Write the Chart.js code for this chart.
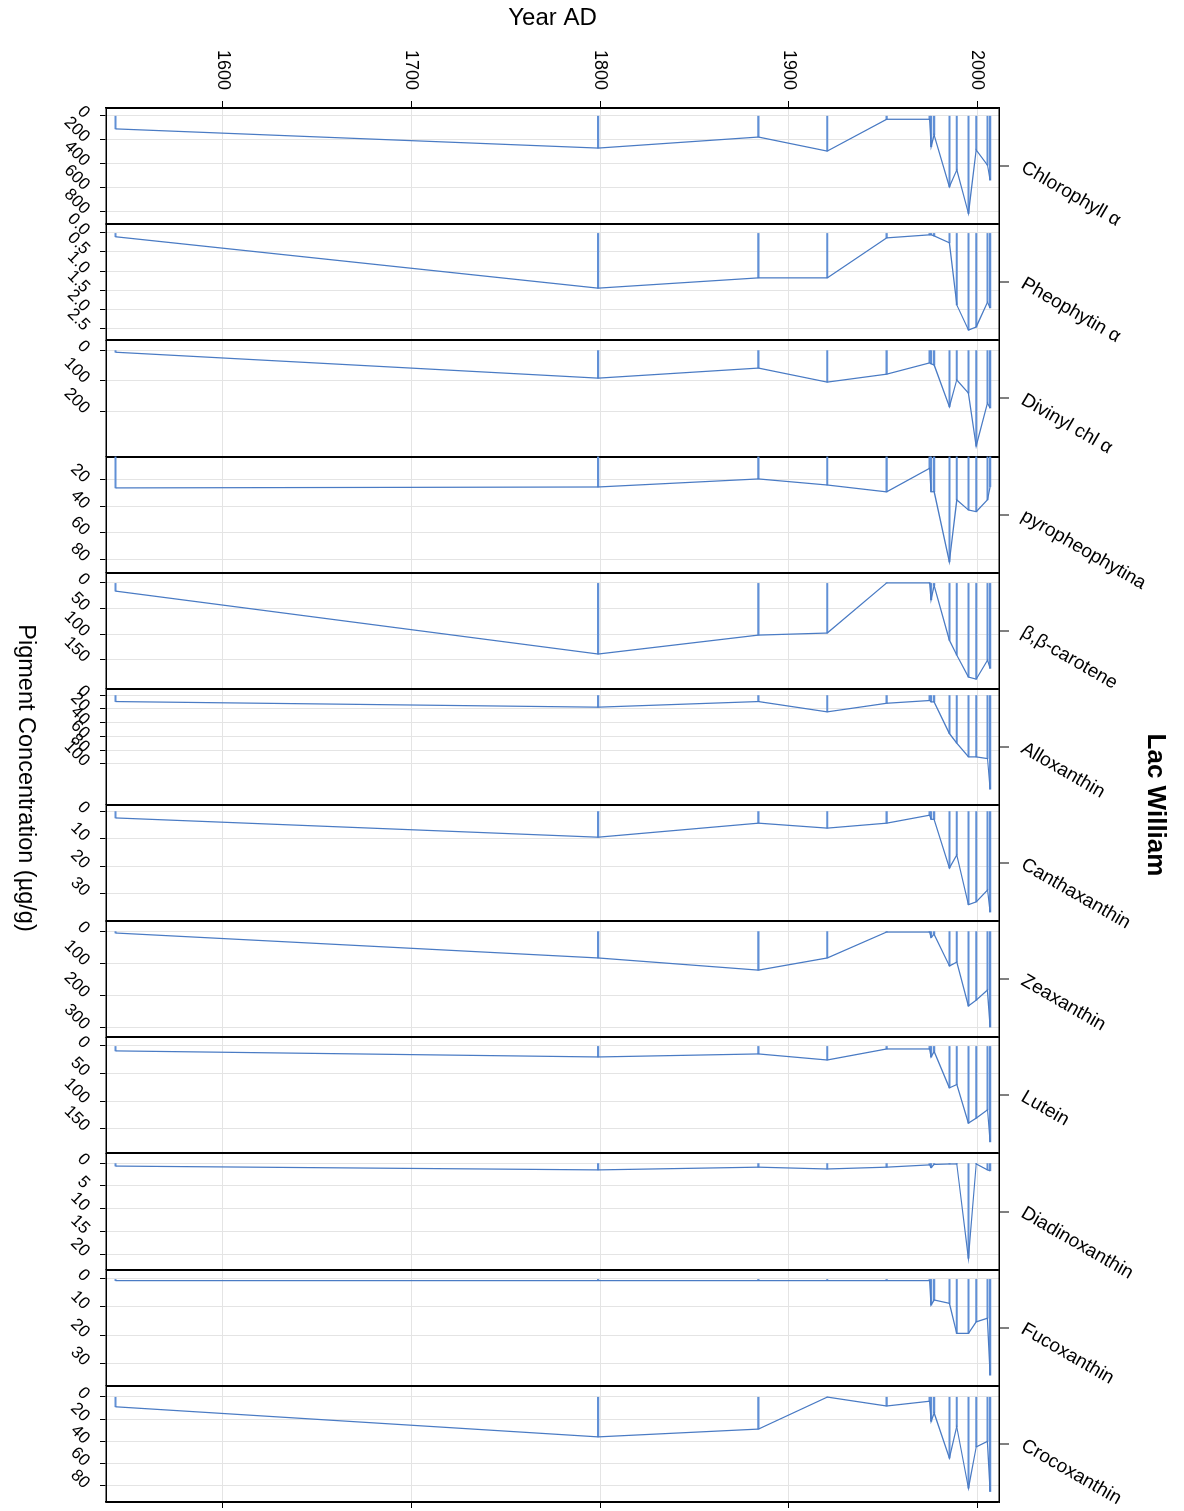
<!DOCTYPE html>
<html><head><meta charset="utf-8">
<script src="https://cdn.jsdelivr.net/npm/chart.js@4.4.0/dist/chart.umd.min.js"></script>
<style>
html,body{margin:0;padding:0;background:#fff;overflow:hidden;width:1184px;height:1511px;}
#wrap{position:absolute;left:0;top:0;width:1511px;height:1184px;transform-origin:0 0;transform:translateX(1184px) rotate(90deg);}
canvas{display:block;}
</style></head><body>
<div id="wrap"><canvas id="c" width="1511" height="1184"></canvas></div>
<script>
// ---- data ----
const years = [1543, 1799, 1884, 1920.5, 1952, 1974.8, 1975.6, 1977.2, 1985.3, 1989.2, 1995.4, 1999.5, 2005.5, 2006.9];
const yearTicks = [1600, 1700, 1800, 1900, 2000];
const pigmentNames = ['Chlorophyll α', 'Pheophytin α', 'Divinyl chl α', 'pyropheophytina', 'β,β-carotene', 'Alloxanthin',
  'Canthaxanthin', 'Zeaxanthin', 'Lutein', 'Diadinoxanthin', 'Fucoxanthin', 'Crocoxanthin'];

const chlorophyllA    = [110, 270, 178, 295, 30, 30, 258, 160, 593, 453, 815, 286, 412, 537];
const pheophytinA     = [0.1, 1.45, 1.18, 1.18, 0.13, 0.05, 0.05, 0.08, 0.26, 1.89, 2.55, 2.47, 1.82, 1.97];
const divinylChlA     = [7, 92, 59, 105, 79, 42, 45, 49, 186, 98, 141, 315, 174, 190];
const pyropheophytinA = [26, 25.3, 19.2, 23.8, 29, 11.1, 28.9, 28.9, 82, 35, 42.7, 44, 35, 25];
const betaCarotene    = [16, 139, 102, 98, 0, 0, 33, 5, 112, 141, 184, 188, 151, 167];
const alloxanthin     = [9.5, 17.7, 9.5, 24.5, 12, 8, 10, 10, 56, 70, 90, 90, 92.5, 137];
const canthaxanthin   = [2.5, 9.5, 4.4, 6.2, 4.4, 1.5, 3, 3, 20.7, 16, 34, 33, 28.7, 36.7];
const zeaxanthin      = [6, 84, 122, 84, 3, 3, 20, 10, 109, 97, 234, 216, 184, 300];
const lutein          = [9, 20, 14.5, 25.5, 5.5, 5.5, 20, 10, 76, 70, 140, 131, 116, 174];
const diadinoxanthin  = [0.66, 1.5, 0.9, 1.3, 0.9, 0.4, 1.0, 0.3, 0.2, 0.2, 20.9, 0.2, 1.5, 1.7];
const fucoxanthin     = [0.6, 0.6, 0.6, 0.6, 0.6, 0.6, 9.3, 7.5, 8.7, 19.4, 19.4, 15.3, 14, 34.3];
const crocoxanthin    = [9, 36, 29, 0.3, 8.3, 4, 22, 14.6, 55, 27, 82, 45, 40, 85];

const pigmentSeries = [chlorophyllA, pheophytinA, divinylChlA, pyropheophytinA, betaCarotene, alloxanthin,
  canthaxanthin, zeaxanthin, lutein, diadinoxanthin, fucoxanthin, crocoxanthin];

const pigmentTicks = [
  [0, 200, 400, 600, 800], [0, 0.5, 1, 1.5, 2, 2.5], [0, 100, 200], [20, 40, 60, 80], [0, 50, 100, 150],
  [0, 20, 40, 60, 80, 100], [0, 10, 20, 30], [0, 100, 200, 300], [0, 50, 100, 150], [0, 5, 10, 15, 20],
  [0, 10, 20, 30], [0, 20, 40, 60, 80]];
const tickDecimals = [0, 1, 0, 0, 0, 0, 0, 0, 0, 0, 0, 0];
const axisMin = [-64, -0.23, -32, 2.2, -20, -9, -2.2, -31, -15.6, -2.1, -3.3, -9.8];
const axisMax = [904, 2.82, 349, 90.2, 207, 160, 40, 332, 195, 23.4, 38.1, 94.4];
const yearMin = 1538, yearMax = 2011.6;

// ---- chart ----
const FONT = '"Liberation Sans", Arial, Helvetica, sans-serif';
Chart.defaults.font.family = FONT;
Chart.defaults.color = '#000';

const LINE = '#4a7bc4';
const STICK = '#6190d6';
const GRID = '#e4e4e4';

const noPad = s => { s.paddingLeft = 0; s.paddingRight = 0; s.paddingTop = 0; s.paddingBottom = 0; };

const datasets = [];
const scales = {
  y: {
    type: 'linear', position: 'left', min: yearMin, max: yearMax, bounds: 'data', offset: false,
    afterBuildTicks: s => { s.ticks = yearTicks.map(v => ({value: v})); },
    afterFit: s => { s.width = 63; noPad(s); },
    ticks: {autoSkip: false, padding: 11, font: {size: 18}, callback: v => String(v)},
    grid: {offset: false, color: GRID, tickColor: '#000', tickLength: 7, lineWidth: 1},
    border: {color: '#000', width: 1.5},
    title: {display: true, text: 'Year AD', font: {size: 24}, padding: {top: -41.4, bottom: 0}}
  },
  yR: {
    type: 'linear', position: 'right', min: yearMin, max: yearMax, bounds: 'data', offset: false,
    afterBuildTicks: s => { s.ticks = yearTicks.map(v => ({value: v})); },
    afterFit: s => { s.width = 9; noPad(s); },
    ticks: {display: false},
    grid: {offset: false, drawOnChartArea: false, color: '#000', tickColor: '#000', tickLength: 6},
    border: {color: '#000', width: 1.5}
  }
};

pigmentNames.forEach((name, i) => {
  const xid = 'x' + i;
  const vals = pigmentSeries[i];
  const pts = years.map((yr, k) => ({x: vals[k], y: yr}));
  datasets.push({
    type: 'line', label: name, data: pts, xAxisID: xid, yAxisID: 'y', indexAxis: 'y',
    borderColor: LINE, borderWidth: 1.25, pointRadius: 0, tension: 0, fill: false
  });
  datasets.push({
    type: 'bar', label: name + ' (samples)', data: pts, xAxisID: xid, yAxisID: 'y', indexAxis: 'y',
    backgroundColor: STICK, borderWidth: 0, barThickness: 1.4, maxBarThickness: 1.4, grouped: false,
    base: Math.max(0, axisMin[i])
  });
  scales[xid] = {
    type: 'linear', position: 'bottom', stack: 'panels', stackWeight: 1, min: axisMin[i], max: axisMax[i],
    bounds: 'data', offset: false,
    afterBuildTicks: s => { s.ticks = pigmentTicks[i].map(v => ({value: v})); },
    afterFit: s => { s.height = 66.8; noPad(s); },
    ticks: {autoSkip: false, minRotation: 45, maxRotation: 45, padding: 6, font: {size: 17},
      callback: v => Number(v).toFixed(tickDecimals[i])},
    grid: {offset: false, color: GRID, tickColor: '#000', tickLength: 6, lineWidth: 1},
    border: {color: '#000', width: 1.5}
  };
});

// label axes: top boxes are laid out in reverse order, so add them last-to-first
for (let i = pigmentNames.length - 1; i >= 0; i--) {
  const name = pigmentNames[i];
  scales['t' + i] = {
    type: 'linear', position: 'top', axis: 'x', stack: 'labels', stackWeight: 1, min: 0, max: 1,
    bounds: 'data', offset: false,
    afterBuildTicks: s => { s.ticks = [{value: 0}, {value: 0.5}, {value: 1}]; },
    afterFit: s => { s.height = 170.4; noPad(s); },
    ticks: {autoSkip: false, minRotation: 60, maxRotation: 60, padding: 8, labelOffset: 20, font: {size: 19},
      callback: v => (v === 0.5 ? name : '')},
    grid: {
      offset: false, lineWidth: 2, tickWidth: 1, tickLength: 10,
      color: c => (c.tick && c.tick.value === 0.5) ? 'rgba(0,0,0,0)' : '#000',
      tickColor: c => (c.tick && c.tick.value === 0.5) ? '#000' : 'rgba(0,0,0,0)'
    },
    border: {color: '#000', width: 1.5}
  };
}

new Chart(document.getElementById('c'), {
  type: 'line',
  data: {datasets},
  options: {
    responsive: false, animation: false, devicePixelRatio: 1,
    layout: {padding: {left: 45, right: 0, top: 0, bottom: 0}},
    scales,
    plugins: {
      legend: {display: false},
      tooltip: {enabled: false},
      title: {display: true, text: 'Lac William', position: 'top', fullSize: false,
        font: {size: 26, weight: 'bold'}, padding: {top: 13.4, bottom: -30}},
      subtitle: {display: true, text: 'Pigment Concentration (µg/g)', position: 'bottom', fullSize: true,
        font: {size: 23.5, weight: 'normal'}, color: '#000', padding: {top: 0, bottom: 11}}
    }
  }
});
</script>
</body></html>
